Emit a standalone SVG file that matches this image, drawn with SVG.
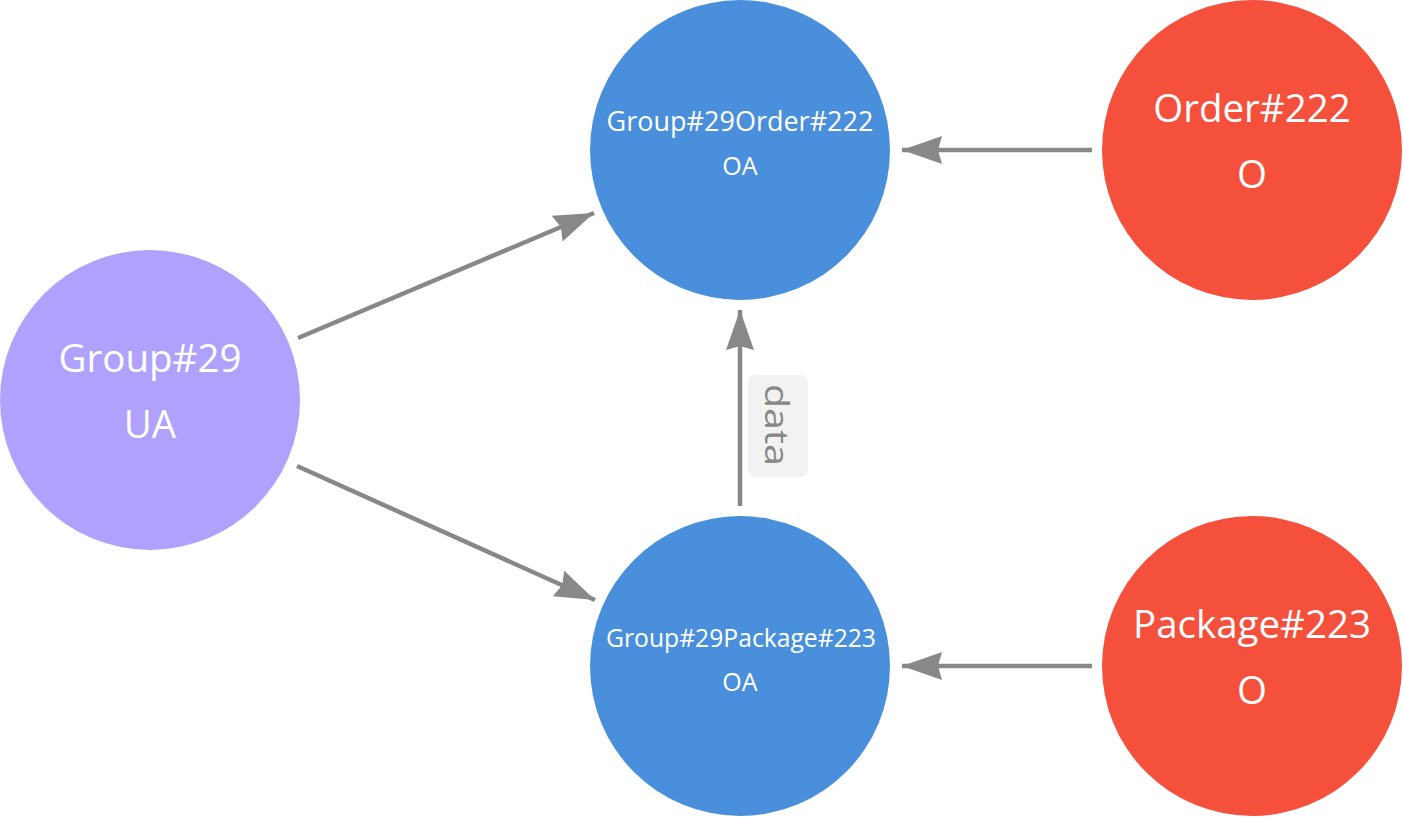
<svg xmlns="http://www.w3.org/2000/svg" width="1403" height="817" viewBox="0 0 1403 817">
<defs>
<style>
.lbl{font-family:"Open Sans","Noto Sans","Liberation Sans",sans-serif;fill:#ffffff;text-anchor:middle}
.big{font-size:38.5px}
.small{font-size:25px}
.edge{stroke:#888888;stroke-width:4.5;fill:none}
.elbl{font-family:"Open Sans","Noto Sans","Liberation Sans",sans-serif;font-size:33px;fill:#888888;text-anchor:middle}
</style>
<marker id="arr" markerUnits="userSpaceOnUse" markerWidth="44" markerHeight="32" viewBox="0 0 44 32" refX="40" refY="16" orient="auto">
<path d="M40,16 L0,2 L4,16 L0,30 Z" fill="#888888"/>
</marker>
</defs>
<rect width="1403" height="817" fill="#ffffff"/>
<g id="connectors">
<line class="edge" x1="298" y1="338" x2="594" y2="213" marker-end="url(#arr)"/>
<line class="edge" x1="297" y1="466" x2="595" y2="600" marker-end="url(#arr)"/>
<line class="edge" x1="740" y1="506" x2="740" y2="310" marker-end="url(#arr)"/>
<line class="edge" x1="1092" y1="150" x2="902" y2="150" marker-end="url(#arr)"/>
<line class="edge" x1="1092" y1="666" x2="902" y2="666" marker-end="url(#arr)"/>
<g id="edge-label-data">
<rect x="748" y="375" width="60" height="102" rx="8" fill="#f2f2f2"/>
<text class="elbl" transform="translate(765,425) rotate(90)" textLength="82" lengthAdjust="spacingAndGlyphs">data</text>
</g>
</g>
<g id="node-group29ua">
<circle cx="150" cy="400" r="150" fill="#afa1fd"/>
<text class="lbl big" x="150" y="372">Group#29</text>
<text class="lbl big" x="150" y="438">UA</text>
</g>
<g id="node-group29order222">
<circle cx="740" cy="150" r="150" fill="#4a8fdb"/>
<text class="lbl small" x="740" y="131" font-size="27" style="font-size:27px">Group#29Order#222</text>
<text class="lbl small" x="740" y="175">OA</text>
</g>
<g id="node-group29package223">
<circle cx="740" cy="666" r="150" fill="#4a8fdb"/>
<text class="lbl small" x="741" y="647" style="font-size:24.7px">Group#29Package#223</text>
<text class="lbl small" x="740" y="691">OA</text>
</g>
<g id="node-order222">
<circle cx="1252" cy="150" r="150" fill="#f5503b"/>
<text class="lbl big" x="1252" y="122">Order#222</text>
<text class="lbl big" x="1252" y="188">O</text>
</g>
<g id="node-package223">
<circle cx="1252" cy="666" r="150" fill="#f5503b"/>
<text class="lbl big" x="1252" y="638">Package#223</text>
<text class="lbl big" x="1252" y="704">O</text>
</g>
</svg>
